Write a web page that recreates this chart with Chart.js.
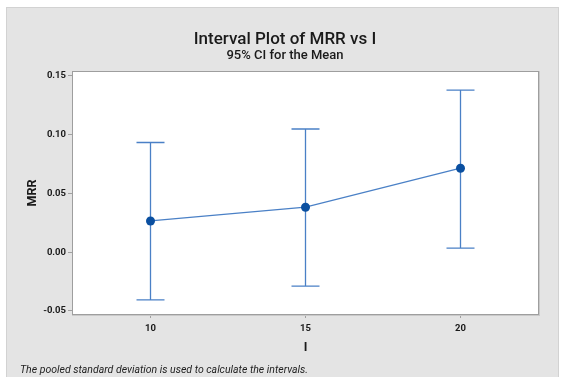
<!DOCTYPE html>
<html>
<head>
<meta charset="utf-8">
<script src="https://cdn.jsdelivr.net/npm/chart.js@4"></script>
<style>
html,body{margin:0;padding:0;background:#fff;}
#wrap{width:561px;height:377px;position:relative;}
</style>
</head>
<body>
<div id="wrap"><canvas id="c" width="561" height="377"></canvas></div>
<script>
// ---- data ----
const levels = [10, 15, 20];
const means = [0.0266, 0.0383, 0.0715];
const lowerCI = [-0.0406, -0.0289, 0.0034];
const upperCI = [0.0934, 0.1049, 0.1379];
const xTicks = [10, 15, 20];
const yTicks = [-0.05, 0.00, 0.05, 0.10, 0.15];
const titleText = 'Interval Plot of MRR vs I';
const subtitleText = '95% CI for the Mean';
const xTitle = 'I';
const yTitle = 'MRR';
const footnote = 'The pooled standard deviation is used to calculate the intervals.';

const LINE = '#4a80c6';
const DOT = '#0a4fa0';

const decor = {
  id: 'decor',
  beforeDraw(chart) {
    const ctx = chart.ctx, a = chart.chartArea;
    ctx.save();
    ctx.fillStyle = '#ffffff';
    ctx.fillRect(0, 0, chart.width, chart.height);
    ctx.fillStyle = '#e4e4e4';
    ctx.fillRect(6, 7, 553, 370);
    ctx.strokeStyle = '#d2d2d2';
    ctx.lineWidth = 1;
    ctx.strokeRect(6.5, 7.5, 552, 372);
    ctx.fillStyle = '#ffffff';
    ctx.fillRect(a.left, a.top, a.right - a.left, a.bottom - a.top);
    ctx.restore();
  },
  beforeDatasetsDraw(chart) {
    const ctx = chart.ctx, xs = chart.scales.x, ys = chart.scales.y;
    ctx.save();
    ctx.strokeStyle = LINE;
    ctx.lineWidth = 1.3;
    const cap = 14;
    levels.forEach((lv, i) => {
      const px = xs.getPixelForValue(lv);
      const pu = ys.getPixelForValue(upperCI[i]);
      const pl = ys.getPixelForValue(lowerCI[i]);
      ctx.beginPath();
      ctx.moveTo(px, pu); ctx.lineTo(px, pl);
      ctx.moveTo(px - cap, pu); ctx.lineTo(px + cap, pu);
      ctx.moveTo(px - cap, pl); ctx.lineTo(px + cap, pl);
      ctx.stroke();
    });
    ctx.restore();
  },
  afterDraw(chart) {
    const ctx = chart.ctx, a = chart.chartArea;
    ctx.save();
    ctx.strokeStyle = '#c9c9c9';
    ctx.lineWidth = 1;
    ctx.strokeRect(a.left - 0.5, a.top - 0.5, a.right - a.left + 2, a.bottom - a.top + 2);
    ctx.strokeStyle = '#9e9e9e';
    ctx.strokeRect(a.left - 0.5, a.top - 0.5, a.right - a.left + 1, a.bottom - a.top + 1);
    ctx.fillStyle = '#1a1a1a';
    ctx.textAlign = 'center';
    ctx.textBaseline = 'alphabetic';
    ctx.font = '500 17px Roboto';
    ctx.fillText(titleText, 285, 44);
    ctx.font = '500 13px Roboto';
    ctx.fillText(subtitleText, 285, 59);
    ctx.textAlign = 'left';
    ctx.font = 'italic 10.5px Roboto';
    ctx.fillStyle = '#222';
    ctx.fillText(footnote, 20, 373);
    ctx.restore();
  }
};

new Chart(document.getElementById('c'), {
  type: 'line',
  data: {
    datasets: [{
      data: levels.map((lv, i) => ({x: lv, y: means[i]})),
      borderColor: LINE,
      borderWidth: 1.3,
      pointRadius: 4.5,
      pointBackgroundColor: DOT,
      pointBorderColor: DOT,
      pointBorderWidth: 0,
      tension: 0,
      fill: false
    }]
  },
  options: {
    responsive: false,
    animation: false,
    devicePixelRatio: 1,
    layout: {padding: {top: 72, right: 23, left: 0, bottom: 0}},
    plugins: {legend: {display: false}, tooltip: {enabled: false}, title: {display: false}},
    scales: {
      x: {
        type: 'linear', min: 7.5, max: 22.5,
        afterBuildTicks: s => { s.ticks = xTicks.map(v => ({value: v})); },
        afterFit: s => { s.height = 63; },
        grid: {drawOnChartArea: false, drawTicks: true, tickLength: 4, color: '#a0a0a0'},
        border: {display: false},
        ticks: {color: '#1a1a1a', font: {family: 'Roboto', size: 9.5, weight: 'bold'}, padding: 5, maxRotation: 0},
        title: {display: true, text: xTitle, color: '#1a1a1a', font: {family: 'Roboto', size: 12.5, weight: 'bold'}, padding: {top: 0, bottom: 22}}
      },
      y: {
        type: 'linear', min: -0.0526, max: 0.1534,
        afterBuildTicks: s => { s.ticks = yTicks.map(v => ({value: v})); },
        afterFit: s => { s.width = 73; },
        grid: {drawOnChartArea: false, drawTicks: true, tickLength: 5, color: '#a0a0a0'},
        border: {display: false},
        ticks: {color: '#1a1a1a', font: {family: 'Roboto', size: 9.5, weight: 'bold'}, padding: 2, callback: v => v.toFixed(2)},
        title: {display: true, text: yTitle, color: '#1a1a1a', font: {family: 'Roboto', size: 12.5, weight: 'bold'}, padding: {top: 25, bottom: 0}}
      }
    }
  },
  plugins: [decor]
});
</script>
</body>
</html>
